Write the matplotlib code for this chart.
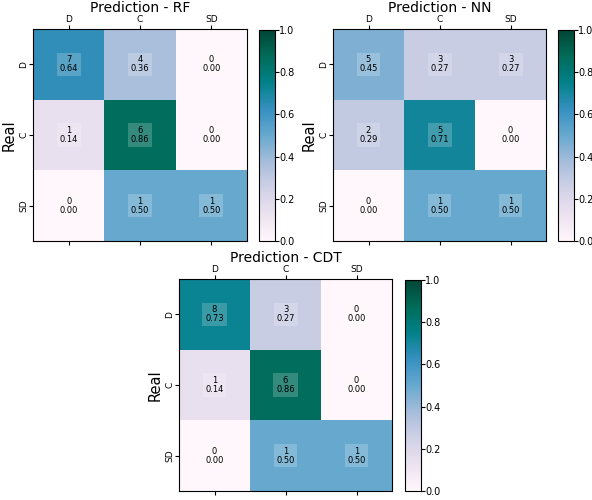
import matplotlib
matplotlib.use("Agg")
import matplotlib.pyplot as plt
import numpy as np

labels = ["D", "C", "SD"]

counts_rf = [[7, 4, 0], [1, 6, 0], [0, 1, 1]]
norm_rf = [[0.64, 0.36, 0.00], [0.14, 0.86, 0.00], [0.00, 0.50, 0.50]]

counts_nn = [[5, 3, 3], [2, 5, 0], [0, 1, 1]]
norm_nn = [[0.45, 0.27, 0.27], [0.29, 0.71, 0.00], [0.00, 0.50, 0.50]]

counts_cdt = [[8, 3, 0], [1, 6, 0], [0, 1, 1]]
norm_cdt = [[0.73, 0.27, 0.00], [0.14, 0.86, 0.00], [0.00, 0.50, 0.50]]

W, H = 592, 500


def px_axes(fig, x0, y0, x1, y1):
    return fig.add_axes([x0 / W, 1 - y1 / H, (x1 - x0) / W, (y1 - y0) / H])


def draw_cm(fig, box, cbox, counts, norm, title):
    ax = px_axes(fig, *box)
    cax = px_axes(fig, *cbox)
    im = ax.imshow(np.array(norm), cmap="PuBuGn", vmin=0, vmax=1, aspect="auto")
    for i in range(3):
        for j in range(3):
            ax.text(j, i, f"{counts[i][j]}\n{norm[i][j]:.2f}", ha="center", va="center",
                    fontsize=6, color="black", linespacing=1.0,
                    bbox=dict(facecolor="white", alpha=0.2, edgecolor="none", pad=2))
    ax.set_xticks(range(3))
    ax.set_xticklabels(labels, fontsize=6.5)
    ax.set_yticks(range(3))
    ax.set_yticklabels(labels, fontsize=6.5, rotation=90, va="center")
    ax.tick_params(top=True, labeltop=True, bottom=True, labelbottom=False,
                   length=3, pad=0.5)
    ax.set_title(title, fontsize=10, pad=1)
    ax.set_ylabel("Real", fontsize=10.5, labelpad=2)
    cb = fig.colorbar(im, cax=cax)
    cb.ax.tick_params(labelsize=7, length=3, pad=0)
    cb.set_ticks([0, 0.2, 0.4, 0.6, 0.8, 1.0])
    return ax


fig = plt.figure(figsize=(W / 100, H / 100), dpi=100)
draw_cm(fig, (33, 29, 247, 241), (259, 30, 275, 241), counts_rf, norm_rf, "Prediction - RF")
draw_cm(fig, (333, 29, 546, 241), (558, 30, 574, 241), counts_nn, norm_nn, "Prediction - NN")
draw_cm(fig, (179, 279, 392, 491), (405, 280, 421, 491), counts_cdt, norm_cdt, "Prediction - CDT")

fig.savefig("out.png", dpi=100)
